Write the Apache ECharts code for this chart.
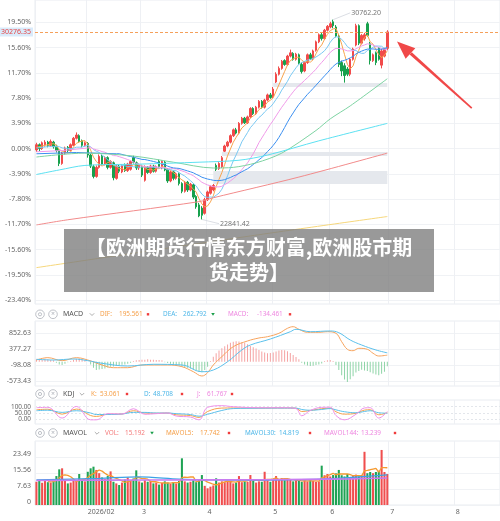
<!DOCTYPE html>
<html><head><meta charset="utf-8">
<script src="https://cdn.jsdelivr.net/npm/echarts@6/dist/echarts.min.js"></script>
<style>html,body{margin:0;padding:0;background:#fff}#c{width:500px;height:521px}</style>
</head><body><div id="c"></div>
<script>
// ---------- data (percent change vs BASE_PRICE) ----------
const BASE_PRICE = 25650;
const MONTH_LABELS = ['', '2026/02', '3', '4', '5', '6', '7', '8'];
const MONTH_SLOTS = [18, 19, 23, 23, 20, 21, 23, 16];
// [open, close, low, high] in %
const CANDLES = [
[-0.2,0.6,-0.5,0.9],[0.6,0.0,-0.4,0.8],[0.0,0.9,-0.2,1.1],[0.6,1.0,0.3,1.3],[1.0,0.5,0.2,1.2],
[0.5,1.1,0.3,1.4],[1.0,0.3,0.0,1.2],[0.4,-0.3,-0.6,0.6],[-0.3,-2.3,-2.7,-0.1],[-2.3,-0.7,-2.5,-0.5],
[-0.7,0.1,-0.9,0.3],[0.2,-0.3,-0.6,0.4],[-0.3,0.6,-0.4,0.8],[0.5,1.6,0.4,1.8],[1.6,2.1,1.4,2.5],
[2.0,1.1,0.9,2.2],[1.2,0.5,0.2,1.4],[0.5,0.9,0.3,1.1],[0.8,-1.0,-1.4,1.0],[-1.0,-2.7,-3.0,-0.8],
[-2.8,-4.3,-4.6,-2.5],[-4.3,-2.9,-4.5,-2.6],[-2.9,-1.2,-3.1,-0.9],[-1.2,-2.4,-2.6,-1.0],[-2.4,-1.4,-2.6,-1.2],
[-1.4,-2.9,-3.2,-1.2],[-2.9,-2.0,-3.1,-1.8],[-2.2,-4.5,-4.9,-2.0],[-4.6,-2.7,-4.8,-2.5],[-2.7,-3.5,-3.8,-2.5],
[-3.6,-2.6,-3.8,-2.4],[-2.5,-3.4,-3.6,-2.3],[-3.4,-2.4,-3.6,-2.2],[-3.2,-2.0,-3.4,-1.8],[-1.4,-2.1,-2.3,-1.1],
[-2.2,-3.0,-3.3,-2.0],[-3.0,-2.6,-3.3,-2.3],[-2.7,-4.1,-4.4,-2.5],[-4.9,-2.8,-5.1,-2.6],[-2.9,-3.7,-3.9,-2.7],
[-3.7,-2.7,-3.9,-2.5],[-2.7,-3.5,-3.7,-2.5],[-3.5,-2.8,-3.7,-2.6],[-2.0,-2.8,-3.0,-1.7],[-3.0,-2.0,-3.2,-1.8],
[-2.1,-3.3,-3.5,-1.9],[-3.2,-5.0,-5.3,-3.0],[-5.0,-3.6,-5.2,-3.4],[-3.6,-4.6,-4.9,-3.4],[-4.6,-3.9,-4.8,-3.7],
[-3.9,-5.4,-5.7,-3.7],[-5.4,-6.6,-6.9,-5.2],[-6.6,-5.2,-6.8,-5.0],[-5.2,-6.4,-6.7,-5.0],[-6.4,-5.5,-6.6,-5.3],
[-5.6,-7.5,-7.8,-5.4],[-7.4,-9.0,-9.3,-7.2],[-8.7,-10.4,-10.6,-8.4],[-9.2,-10.3,-10.94963,-8.9],[-10.0,-7.9,-10.2,-7.6],
[-7.9,-6.7,-8.1,-6.5],[-6.9,-5.9,-7.1,-5.7],[-6.4,-5.7,-6.6,-5.47],[-2.6,-3.2,-3.46,-2.3],[-3.1,-2.3,-3.3,-2.1],
[-2.8,-1.4,-3.0,-1.14],[-0.4,0.4,-0.53,0.6],[0.4,1.0,0.2,1.2],[1.0,2.0,0.8,2.2],[2.0,2.9,1.8,3.1],
[2.9,2.4,2.2,3.2],[2.4,3.9,2.2,4.1],[3.9,4.7,3.7,4.9],[4.7,4.0,3.8,4.9],[4.0,4.9,3.8,5.1],
[4.9,6.2,4.7,6.4],[6.2,5.4,5.2,6.4],[5.4,6.4,5.2,6.6],[6.4,7.3,6.2,7.5],[7.3,6.4,6.2,7.5],
[6.4,7.5,6.2,7.7],[7.5,8.3,7.3,8.5],[8.3,7.9,7.7,8.6],[8.0,9.2,7.8,9.52],[10.3,11.5,10.14,11.8],
[11.5,12.4,11.3,12.7],[12.4,13.5,12.2,13.7],[13.6,13.0,12.8,13.8],[13.0,14.3,12.8,14.5],[14.3,14.8,14.1,15.3],
[14.7,13.8,13.6,14.9],[13.8,14.6,13.6,14.8],[14.5,13.2,13.0,14.7],[13.0,11.9,11.6,13.3],[12.0,13.3,11.8,13.5],
[13.3,14.5,13.1,14.7],[14.5,13.9,13.7,14.8],[13.9,15.1,13.7,15.3],[15.2,16.5,15.0,16.7],[16.5,17.6,16.3,17.8],
[17.6,17.0,16.7,17.9],[17.0,18.3,16.8,18.5],[18.3,18.9,18.1,19.1],[18.8,19.3,18.6,19.6],[19.6,19.0,18.6,19.930604],
[18.8,17.4,17.2,19.1],[17.4,13.0,12.6,17.6],[13.3,12.0,11.2,13.6],[12.8,11.3,10.2,13.2],[12.3,11.5,11.2,12.6],
[11.5,13.8,11.2,14.0],[13.8,15.4,13.6,15.6],[16.0,19.0,15.8,19.3],[19.0,16.3,16.0,19.2],[16.3,17.5,16.1,17.7],
[17.0,17.6,16.7,17.9],[19.3,17.5,17.3,19.6],[16.2,13.6,13.0,16.5],[13.6,14.5,13.4,14.7],[14.8,13.3,12.9,15.0],
[15.5,13.8,13.6,15.7],[12.9,15.1,12.4,15.4],[14.3,15.4,14.1,15.6],[15.5,18.03645,15.2,18.3]
];
const VOLUME = [
11.4,11.8,10.9,12.0,11.2,11.0,12.2, 14.2,17.5,18.0,12.2, 10.6,11.0,11.8,12.0,15.2,12.2,11.6,
16.3,18.0,18.8,17.2,15.6, 13.5,12.8,14.2, 16.5, 11.4,10.6,9.8,11.0, 12.5,13.5,12.0,13.0, 17.0,
11.6,11.0,12.2,11.4,11.8,10.6, 11.0,10.0,10.8,11.6,11.0,10.4,11.2,10.6,11.8, 22.9,
11.6,11.0,11.4,12.2,11.2, 12.6,14.7, 9.4,8.2,9.0,9.6, 13.1, 11.0,11.6,11.2,11.4,11.8,10.6,11.0,
14.2, 11.2,11.6,11.4, 14.7, 11.8,11.0,11.6,11.4, 16.3, 12.2,11.4,12.6, 14.2,12.6,
13.2,12.2,12.6,12.4,11.6,12.2,11.8, 11.4,12.2,11.6,12.2,11.8,11.4,11.6, 19.3,
14.6,15.2,14.0,14.7, 15.5,17.2, 14.6,14.0,15.2,13.6,14.4,14.9,14.0,14.6, 26.1,
15.6,16.2,15.6,16.2,16.8, 27.0, 16.2,15.192
];
const MACD_HIST = [
70,80,60,90,70,50,40, -30,-80,-100,-60, -20,20, 60,90,100,80,60, 0,-80,
-180,-250,-230,-220,-200,-170, -150,-140,-120,-100,-90,-80,-60,-30,
20,40,50,60,60,70,60,60,50,50,40,
-20,-40,-60,-80,-90,-110,-140,-160,-180,-200,-230,-270,-300,-310, -250,-150,
20,150,250, 330,400,460,510,560,590, 610,600,580,560, 520,470,430,390,350,
300,270,250,260,270, 300,330,350,340,310, 260,200,140,70,
-30,-80,-110,-130,-120,-100,-80,-50, 20,40,50, 20,-100,
-250,-400,-530,-600, -520,-430,-320,-280, -240,-260,-280,-310,-350, -380,-400,-360,-300,-134.461
];
// sparse readings [index, value]
const DIF_PTS = [[0,50],[4,120],[9,30],[14,120],[18,50],[23,-98],[27,-178],[32,-178],[37,-98],[46,-98],[51,-148],[55,-297],[58,-425],[60,-327],[62,-98],[65,150],[69,446],[74,615],[78,704],[81,743],[85,844],[88,992],[90,1040],[92,963],[95,873],[99,873],[102,891],[105,844],[107,594],[109,368],[111,327],[113,398],[116,368],[118,250],[120,169],[123,195.561]];
const DEA_PTS = [[0,71],[6,50],[13,80],[18,30],[23,-48],[32,-128],[41,-77],[51,-98],[58,-297],[62,-247],[67,0],[72,348],[75,496],[82,674],[89,891],[91,963],[96,891],[103,912],[106,862],[110,645],[114,496],[119,348],[123,262.792]];
const K_PTS = [[0,76],[4,80],[9,41],[14,81],[19,30],[21,23],[25,40],[30,42],[34,68],[38,50],[42,48],[46,50],[49,36],[54,30],[57,15],[60,62],[65,89],[69,90],[78,89],[87,90],[91,88],[93,62],[96,70],[100,84],[103,88],[105,60],[108,41],[112,48],[115,73],[117,76],[120,36],[123,53.061]];
const D_PTS = [[0,68],[4,72],[9,55],[14,68],[19,50],[21,38],[25,38],[30,42],[34,55],[38,55],[42,50],[46,50],[49,45],[54,38],[57,25],[60,40],[65,70],[69,85],[78,88],[87,89],[91,89],[93,78],[96,72],[100,78],[103,85],[105,75],[108,60],[112,52],[115,62],[117,68],[120,52],[123,48.708]];
const J_PTS = [[0,92],[4,95],[9,10],[14,102],[19,-4],[21,-4],[25,45],[30,42],[34,84],[38,40],[42,45],[46,50],[49,26],[54,18],[57,-4],[60,95],[65,108],[69,100],[78,92],[87,92],[91,85],[93,28],[96,70],[100,95],[103,96],[105,30],[108,-4],[112,40],[115,90],[117,92],[120,10],[123,61.767]];
const MA5_EARLY = [[0,0.2],[2,0.4]];
const MA10_EARLY = [[0,0.1],[4,0.3],[8,0.3]];
const MA20_EARLY = [[0,-0.5],[9,-0.3],[18,0.1]];
const MA30_EARLY = [[0,-0.8],[14,-0.6],[28,-0.8]];
const MA60_PTS = [[0,-1.3],[17,-0.7],[34,-1.15],[48,-2.1],[62,-3.0],[69,-2.9],[77,-2.2],[86,-0.7],[98,2.8],[103,4.6],[110,6.6],[123,10.8]];
const MA120_PTS = [[0,-4.0],[8,-3.3],[17,-2.6],[36,-2.4],[57,-2.1],[71,-1.8],[81,-1.0],[99,1.2],[123,3.9]];
const MA250_PTS = [[0,-11.8],[11,-11.0],[57,-8.2],[62,-7.6],[92,-4.4],[123,-0.7]];
const MAY_PTS = [[0,-18.4],[75,-13.5],[123,-10.5]];
const MAVOL30_PTS = [[0,12.3],[22,13.1],[36,13.8],[50,12.7],[63,12.3],[75,12.2],[98,12.6],[110,13.5],[123,14.819]];
const MAVOL144_PTS = [[0,12.0],[40,12.3],[80,12.4],[110,12.8],[123,13.239]];
const MAVOL5_LAST = 17.742;
// gap zones [startIndex, low%, high%]
const GAP_ZONES = [[62,-5.47,-3.46],[65,-1.14,-0.53],[83,9.52,10.14]];
// axis tick labels
const MAIN_TICKS = [-23.4,-19.5,-15.6,-11.7,-7.8,-3.9,0,3.9,7.8,11.7,15.6,19.5];
const MACD_TICKS = [-573.43,-98.08,377.27,852.63];
const KDJ_TICKS = [0,50,100];
const VOL_TICKS = [0,7.63,15.56,23.49];
const TITLE = '【欧洲期货行情东方财富,欧洲股市期\n货走势】';

// ---------- build ----------
const N = CANDLES.length;
const CATS = [], LABEL_AT = {}, MONTH_START = [];
MONTH_SLOTS.forEach((n, m) => { for (let d = 0; d < n; d++) { if (d === 0) { LABEL_AT[CATS.length] = MONTH_LABELS[m]; MONTH_START.push(CATS.length); } CATS.push((m + 1) + '-' + (d + 1)); } });
const isStart = i => MONTH_START.indexOf(i) >= 0;
function sparse(pts) { const a = new Array(N).fill(null); pts.forEach(([i, v]) => { a[i] = v; }); return a; }
function movingAvg(vals, w, early) { const a = sparse(early || []); for (let i = w - 1; i < vals.length; i++) { let s = 0; for (let k = i - w + 1; k <= i; k++) s += vals[k]; a[i] = +(s / w).toFixed(3); } return a; }
const closes = CANDLES.map(c => c[1]);
const price = p => (BASE_PRICE * (1 + p / 100)).toFixed(2);
let hiIdx = 0, loIdx = 0;
CANDLES.forEach((c, i) => { if (c[3] > CANDLES[hiIdx][3]) hiIdx = i; if (c[2] < CANDLES[loIdx][2]) loIdx = i; });
const LAST = closes[N - 1];
const UP = '#f14b4b', DOWN = '#17a04c';
const volData = VOLUME.map((v, i) => ({ value: v, itemStyle: { color: CANDLES[i][1] >= CANDLES[i][0] ? '#f04e4e' : '#1fa354' } }));
const histData = MACD_HIST.map(v => ({ value: v, itemStyle: { color: v >= 0 ? '#f5a3a3' : '#8ed4a7' } }));

const GRIDS = [
  { left: 35, right: 0, top: 0, height: 304 },
  { left: 35, right: 0, top: 321, height: 65 },
  { left: 35, right: 0, top: 400, height: 24 },
  { left: 35, right: 0, top: 441, height: 64 }
].map(g => Object.assign(g, { show: true, borderColor: '#e9ecf1', borderWidth: 1 }));

function xAx(g, show) {
  return { gridIndex: g, type: 'category', data: CATS, boundaryGap: true,
    axisLine: { show: false }, axisTick: { show: false },
    axisLabel: { show: show, interval: (i) => isStart(i), formatter: (v, i) => LABEL_AT[i] || '', align: 'left', color: '#666', fontSize: 7, margin: 3, fontFamily: 'Noto Sans', hideOverlap: false },
    splitLine: { show: true, interval: (i) => isStart(i), lineStyle: { color: '#eef0f4', width: 1 } } };
}
function yAx(g, min, max, ticks, fmt, extra, labelExtra) {
  return Object.assign({ gridIndex: g, type: 'value', min: min, max: max, position: 'left',
    axisLine: { show: false }, axisTick: { show: false, customValues: ticks },
    axisLabel: Object.assign({ customValues: ticks, formatter: fmt, color: '#666', fontSize: 7, margin: 4, fontFamily: 'Noto Sans', hideOverlap: false, showMinLabel: true, showMaxLabel: true }, labelExtra || {}),
    splitLine: { show: true, lineStyle: { color: '#f0f2f5' } } }, extra || {});
}
function line(name, data, color, xi, extra) {
  return Object.assign({ name: name, type: 'line', xAxisIndex: xi, yAxisIndex: xi, data: data, symbol: 'none', connectNulls: true,
    lineStyle: { color: color, width: 1 }, silent: true, z: 3 }, extra || {});
}

// ---------- header graphics ----------
const graphics = [];
const HF = '6.4px "Noto Sans"';
function header(y, title, chevX, items) {
  const st = { fill: 'none', stroke: '#aeb2ba', lineWidth: 0.8 };
  graphics.push({ type: 'circle', shape: { cx: 40, cy: y, r: 4.3 }, style: st, z: 50 });
  graphics.push({ type: 'circle', shape: { cx: 40, cy: y, r: 1.6 }, style: st, z: 50 });
  graphics.push({ type: 'circle', shape: { cx: 53, cy: y, r: 4.3 }, style: st, z: 50 });
  graphics.push({ type: 'text', x: 53, y: y, style: { text: '×', fill: '#aeb2ba', font: '7px "Noto Sans"', align: 'center', verticalAlign: 'middle' }, z: 50 });
  graphics.push({ type: 'text', x: 63, y: y, style: { text: title, fill: '#555', font: '7px "Noto Sans"', verticalAlign: 'middle' }, z: 50 });
  graphics.push({ type: 'polyline', shape: { points: [[chevX - 2.2, y - 1], [chevX, y + 1.2], [chevX + 2.2, y - 1]] }, style: { stroke: '#999', fill: 'none', lineWidth: 0.8 }, z: 50 });
  items.forEach(it => {
    graphics.push({ type: 'text', x: it[1], y: y, style: { text: it[0], fill: it[3], font: HF, verticalAlign: 'middle' }, z: 50 });
    graphics.push({ type: 'text', x: it[2], y: y, style: { text: it[4], fill: it[3], font: HF, verticalAlign: 'middle' }, z: 50 });
    if (it[5] === 'up') graphics.push({ type: 'rect', shape: { x: it[6] - 1.2, y: y - 1.2, width: 2.4, height: 2.4 }, style: { fill: '#f03c3c' }, z: 50 });
    else graphics.push({ type: 'polygon', shape: { points: [[it[6] - 1.8, y - 1.2], [it[6] + 1.8, y - 1.2], [it[6], y + 1.4]] }, style: { fill: '#1a9e4a' }, z: 50 });
  });
}
const last = a => a[a.length - 1];
header(314.3, 'MACD', 92, [
  ['DIF:', 100, 119, '#f5a04a', last(DIF_PTS)[1].toFixed(3), 'up', 148],
  ['DEA:', 163, 183, '#4fb7e8', last(DEA_PTS)[1].toFixed(3), 'down', 213],
  ['MACD:', 228, 257, '#ee88e0', MACD_HIST[N - 1].toFixed(3), 'up', 290]
]);
header(394, 'KDJ', 82, [
  ['K:', 91, 100, '#f5a04a', last(K_PTS)[1].toFixed(3), 'up', 127],
  ['D:', 144, 153, '#4fb7e8', last(D_PTS)[1].toFixed(3), 'up', 182],
  ['J:', 197, 207, '#ee88e0', last(J_PTS)[1].toFixed(3), 'up', 232]
]);
header(433, 'MAVOL', 97, [
  ['VOL:', 105, 125, '#f47b7b', VOLUME[N - 1].toFixed(3), 'down', 152],
  ['MAVOL5:', 166, 200, '#f5a04a', MAVOL5_LAST.toFixed(3), 'up', 229],
  ['MAVOL30:', 245, 279, '#4fb7e8', last(MAVOL30_PTS)[1].toFixed(3), 'up', 310],
  ['MAVOL144:', 324, 361, '#ee88e0', last(MAVOL144_PTS)[1].toFixed(3), 'up', 395]
]);
// red arrow annotation
graphics.push({ type: 'polygon', shape: { points: [[409.6, 54.5], [411.8, 52.3], [472.3, 107.6], [471.2, 108.8]] }, style: { fill: '#f04848' }, z: 60 });
graphics.push({ type: 'polygon', shape: { points: [[397, 41.5], [415.3, 48.2], [405.6, 58.8]] }, style: { fill: '#f04848' }, z: 60 });
// title overlay
graphics.push({ type: 'rect', shape: { x: 64, y: 229, width: 370, height: 63 }, style: { fill: 'rgba(128,128,128,0.8)' }, z: 100 });
graphics.push({ type: 'text', x: 249, y: 259.5, style: { text: TITLE, fill: '#fff', font: 'bold 20px "Noto Sans CJK SC"', align: 'center', verticalAlign: 'middle', lineHeight: 25 }, z: 101 });

const chart = echarts.init(document.getElementById('c'), null, { renderer: 'canvas' });
chart.setOption({
  animation: false,
  grid: GRIDS,
  xAxis: [xAx(0, false), xAx(1, false), xAx(2, false), xAx(3, true)],
  yAxis: [
    yAx(0, -24.02, 22.97, MAIN_TICKS, v => v.toFixed(2) + '%'),
    yAx(1, -722, 1209, MACD_TICKS, v => v.toFixed(2)),
    yAx(2, -37, 153, KDJ_TICKS, v => v.toFixed(2), { splitLine: { show: true, lineStyle: { color: '#e3e6eb', type: [2, 2] } } }, { fontSize: 6.4 }),
    yAx(3, 0, 31.4, VOL_TICKS, v => v === 0 ? '0' : v.toFixed(2), null, { verticalAlign: 'bottom' })
  ],
  graphic: graphics,
  series: [
    { name: 'K', type: 'candlestick', xAxisIndex: 0, yAxisIndex: 0, data: CANDLES, barWidth: '70%', silent: true, z: 2,
      itemStyle: { color: UP, color0: DOWN, borderColor: UP, borderColor0: DOWN, borderWidth: 1 },
      markArea: { silent: true, itemStyle: { color: '#e5e8ed' },
        data: GAP_ZONES.map(z => [{ xAxis: z[0], yAxis: z[1] }, { xAxis: N - 1, yAxis: z[2] }]) },
      markLine: { silent: true, symbol: ['none', 'none'], animation: false, data: [
        { yAxis: LAST, lineStyle: { color: '#f5a05a', type: [3, 2], width: 1 },
          label: { position: 'start', distance: 2, formatter: price(LAST), color: '#e54646', fontSize: 7, backgroundColor: '#d9ebfb', padding: [1, 2, 1, 2], fontFamily: 'Noto Sans' } },
        [{ coord: [hiIdx, CANDLES[hiIdx][3]], lineStyle: { color: '#d2d6dd', width: 0.8, type: 'solid' },
           label: { position: 'end', distance: 1, formatter: price(CANDLES[hiIdx][3]), color: '#777', fontSize: 7, fontFamily: 'Noto Sans' } },
         { coord: [hiIdx + 6, CANDLES[hiIdx][3] + 1.05] }],
        [{ coord: [loIdx, CANDLES[loIdx][2]], lineStyle: { color: '#d2d6dd', width: 0.8, type: 'solid' },
           label: { position: 'end', distance: 1, formatter: price(CANDLES[loIdx][2]), color: '#777', fontSize: 7, fontFamily: 'Noto Sans' } },
         { coord: [loIdx + 6, CANDLES[loIdx][2] - 0.65] }]
      ] } },
    line('MA5', movingAvg(closes, 5, MA5_EARLY), '#f7a34b', 0),
    line('MA10', movingAvg(closes, 10, MA10_EARLY), '#79c8f2', 0),
    line('MA20', movingAvg(closes, 20, MA20_EARLY), '#f09ae9', 0),
    line('MA30', movingAvg(closes, 30, MA30_EARLY), '#3b8ff0', 0),
    line('MA60', sparse(MA60_PTS), '#7dd3a2', 0, { smooth: 0.3 }),
    line('MA120', sparse(MA120_PTS), '#5ce1f2', 0, { smooth: 0.3 }),
    line('MA250', sparse(MA250_PTS), '#f28b8b', 0, { smooth: 0.3 }),
    line('MAY', sparse(MAY_PTS), '#f6d77c', 0, { smooth: 0.3 }),
    { name: 'MACD', type: 'bar', xAxisIndex: 1, yAxisIndex: 1, data: histData, barWidth: 1, silent: true },
    line('DIF', sparse(DIF_PTS), '#f7a35c', 1, { smooth: 0.4 }),
    line('DEA', sparse(DEA_PTS), '#5bc0eb', 1, { smooth: 0.4 }),
    line('Kline', sparse(K_PTS), '#f5a04a', 2, { smooth: 0.4 }),
    line('Dline', sparse(D_PTS), '#5bc0eb', 2, { smooth: 0.4 }),
    line('Jline', sparse(J_PTS), '#ee90e8', 2, { smooth: 0.4 }),
    { name: 'VOL', type: 'bar', xAxisIndex: 3, yAxisIndex: 3, data: volData, barWidth: '72%', silent: true },
    line('MAVOL5', movingAvg(VOLUME, 5), '#f59a30', 3, { lineStyle: { color: '#f59a30', width: 1.3 } }),
    line('MAVOL30', sparse(MAVOL30_PTS), '#3aa2e6', 3, { smooth: 0.3, lineStyle: { color: '#3aa2e6', width: 1.3 } }),
    line('MAVOL144', sparse(MAVOL144_PTS), '#c77cf0', 3, { smooth: 0.3, lineStyle: { color: '#c77cf0', width: 1.6 } })
  ]
});
</script></body></html>
